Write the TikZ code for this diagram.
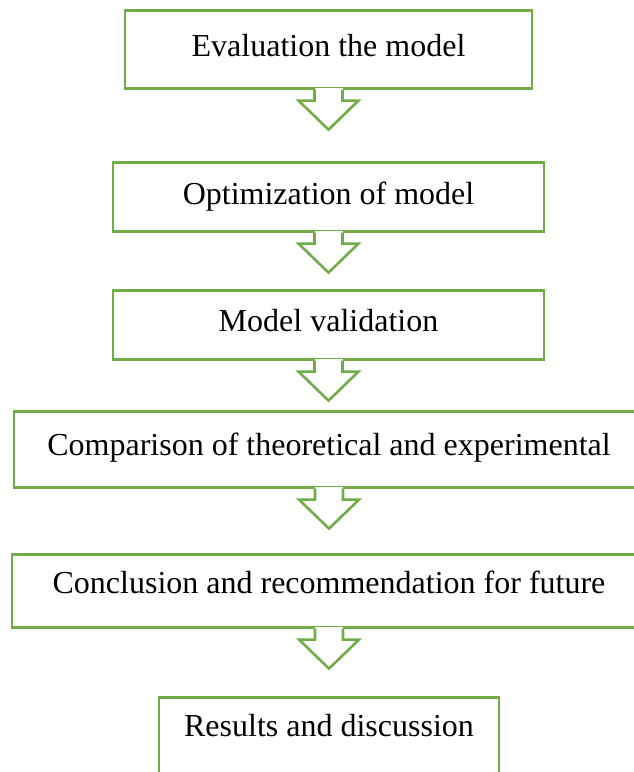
\documentclass[tikz,border=0pt]{standalone}
\usepackage{fontspec}
\setmainfont{Liberation Serif}
\usepackage{tikz}
\usetikzlibrary{positioning}
\definecolor{boxgreen}{HTML}{70AD47}

% hollow block arrow hanging under a box
\newcommand{\blockarrow}[1]{%
  \fill[white] ([xshift=-14pt,yshift=2pt]#1.south) rectangle ([xshift=14pt,yshift=-11pt]#1.south);
  \draw[arrowline] ([xshift=-14pt]#1.south) -- ++(0,11) -- ++(-16,0) -- ++(30,29)
    -- ++(30,-29) -- ++(-16,0) -- ++(0,-11);
}

\begin{document}
\begin{tikzpicture}[x=1pt,y=-1pt,
    arrowline/.style={draw=boxgreen,line width=2.6pt,line join=miter}]
  \useasboundingbox (0,0) rectangle (634,772);
  \clip (0,0) rectangle (634,772);
  \begin{scope}[every node/.style={draw=boxgreen,line width=2.6pt,rectangle,anchor=north,
      inner xsep=0pt,inner ysep=0pt,font=\fontsize{32}{38}\selectfont}]
    \node[minimum width=407pt,text height=46pt,text depth=32pt] (eval) at (328.5,9) {Evaluation the model};
    \node[minimum width=431pt,text height=42pt,text depth=27pt] (optim) at (328.5,161) {Optimization of model};
    \node[minimum width=431pt,text height=41pt,text depth=28pt] (valid) at (328.5,289) {Model validation};
    \node[minimum width=630pt,text height=44pt,text depth=32pt] (compare) at (329,410) {Comparison of theoretical and experimental};
    \node[minimum width=634pt,text height=39pt,text depth=34pt] (concl) at (329,553) {Conclusion and recommendation for future};
    \node[minimum width=340pt,text height=39pt,text depth=45pt] (results) at (329,696) {Results and discussion};
  \end{scope}
  \blockarrow{eval}
  \blockarrow{optim}
  \blockarrow{valid}
  \blockarrow{compare}
  \blockarrow{concl}
\end{tikzpicture}
\end{document}
